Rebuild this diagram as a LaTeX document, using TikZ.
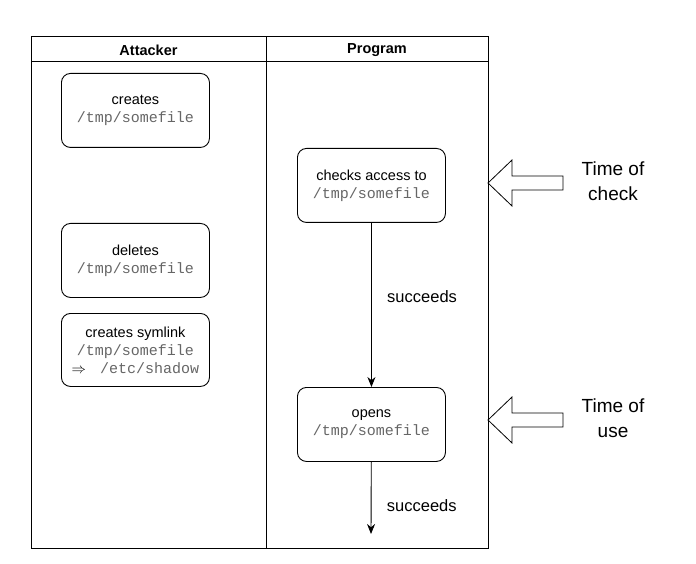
\documentclass[tikz,border=0pt]{standalone}
\usepackage{fontspec}
\setmainfont{Liberation Sans}
\setmonofont{Liberation Mono}
\usetikzlibrary{arrows.meta}
\definecolor{pathgray}{HTML}{666666}
\tikzset{
  stepbox/.style={draw, rounded corners=9pt, line width=0.9pt, minimum width=148pt, minimum height=74pt, align=center, font=\fontsize{14.5}{18}\selectfont, anchor=north west, inner sep=0pt},
  flow/.style={draw, line width=0.9pt, -{Stealth[length=10pt,width=8pt]}},
  lane/.style={line width=1pt},
  marker/.style={draw, line width=0.8pt, fill=white},
  lbl/.style={font=\fontsize{16.5}{20}\selectfont, anchor=west},
  side/.style={font=\fontsize{19}{25}\selectfont, align=center},
  header/.style={font=\bfseries\fontsize{14.5}{17}\selectfont},
}
\newcommand{\fpath}[1]{{\ttfamily\fontsize{15}{18}\selectfont\color{pathgray}#1}}
\begin{document}
\begin{tikzpicture}[x=1pt,y=-1pt]
\useasboundingbox (0,0) rectangle (696,564);
% swimlanes
\draw[lane] (31,37) rectangle (488,548);
\draw[lane] (31,62) -- (488,62);
\draw[lane] (266,37) -- (266,548);
\node[header] (hA) at (148.5,50) {Attacker};
\node[header] (hP) at (377,50) {Program};
% attacker steps
\node[stepbox] (create) at (61,73) {creates\\\fpath{/tmp/somefile}};
\node[stepbox] (delete) at (61,223) {deletes\\\fpath{/tmp/somefile}};
\node[stepbox, minimum height=73pt] (symlink) at (61,313) {creates symlink\\\fpath{/tmp/somefile}\\$\Rightarrow$\hspace{14pt}\fpath{/etc/shadow}};
% program steps
\node[stepbox] (check) at (297,148) {checks access to\\\fpath{/tmp/somefile}};
\node[stepbox] (open) at (297,387) {opens\\\fpath{/tmp/somefile}};
\coordinate (end) at (371,534);
\draw[flow] (check) -- node[lbl, xshift=12pt, pos=0.45] {succeeds} (open);
\draw[flow] (open) -- node[lbl, xshift=12pt, pos=0.6] {succeeds} (end);
% time markers
\draw[marker] (488,183) -- (512,160) -- (512,176) -- (563,176) -- (563,190) -- (512,190) -- (512,206) -- cycle;
\draw[marker] (488,420) -- (512,397) -- (512,413) -- (563,413) -- (563,427) -- (512,427) -- (512,443) -- cycle;
\node[side] (toc) at (613,181) {Time of\\check};
\node[side] (tou) at (613,418) {Time of\\use};
\end{tikzpicture}
\end{document}
